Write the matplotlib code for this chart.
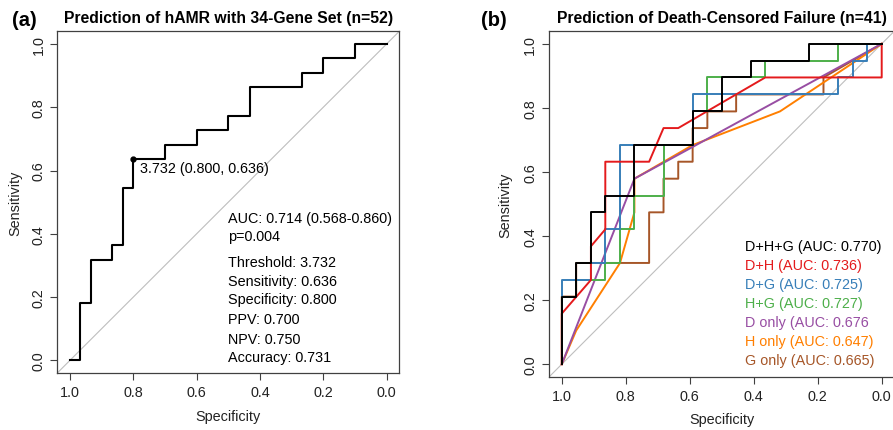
import matplotlib
matplotlib.use("Agg")
import matplotlib.pyplot as plt

plt.rcParams['font.family'] = ['Liberation Sans', 'DejaVu Sans']

###########################################################################
# Data
###########################################################################
# (a) hAMR, 34-gene set
a_spec = [1.0, 0.967, 0.967, 0.933, 0.933, 0.867, 0.867, 0.833, 0.833, 0.8, 0.8,
          0.7, 0.7, 0.6, 0.6, 0.5, 0.5, 0.433, 0.433, 0.267, 0.267, 0.2, 0.2,
          0.1, 0.1, 0.0]
a_sens = [0.0, 0.0, 0.182, 0.182, 0.318, 0.318, 0.364, 0.364, 0.545, 0.545, 0.636,
          0.636, 0.682, 0.682, 0.727, 0.727, 0.773, 0.773, 0.864, 0.864, 0.909,
          0.909, 0.955, 0.955, 1.0, 1.0]
a_best = (0.800, 0.636)
a_best_label = "3.732 (0.800, 0.636)"
a_stats = ["AUC: 0.714 (0.568-0.860)", "p=0.004", "Threshold: 3.732",
           "Sensitivity: 0.636", "Specificity: 0.800", "PPV: 0.700",
           "NPV: 0.750", "Accuracy: 0.731"]

# (b) death-censored failure
dhg_spec = [1, 1, 0.955, 0.955, 0.909, 0.909, 0.864, 0.864, 0.773, 0.773, 0.591,
            0.591, 0.5, 0.5, 0.409, 0.409, 0.227, 0.227, 0]
dhg_sens = [0, 0.211, 0.211, 0.316, 0.316, 0.474, 0.474, 0.526, 0.526, 0.684, 0.684,
            0.789, 0.789, 0.895, 0.895, 0.947, 0.947, 1, 1]
dh_spec = [1, 1, 0.909, 0.909, 0.864, 0.864, 0.727, 0.682, 0.636, 0.364, 0, 0]
dh_sens = [0, 0.158, 0.263, 0.368, 0.421, 0.632, 0.632, 0.737, 0.737, 0.895, 0.895, 1]
dg_spec = [1, 1, 0.909, 0.909, 0.864, 0.864, 0.818, 0.818, 0.591, 0.591, 0.136,
           0.136, 0.091, 0.091, 0.045, 0.045, 0]
dg_sens = [0, 0.263, 0.263, 0.316, 0.316, 0.421, 0.421, 0.684, 0.684, 0.842, 0.842,
           0.895, 0.895, 0.947, 0.947, 1, 1]
hg_spec = [1, 1, 0.955, 0.955, 0.864, 0.864, 0.818, 0.818, 0.773, 0.773, 0.682,
           0.682, 0.591, 0.591, 0.545, 0.545, 0.364, 0.364, 0.136, 0.136, 0]
hg_sens = [0, 0.211, 0.211, 0.263, 0.263, 0.316, 0.316, 0.421, 0.421, 0.526, 0.526,
           0.684, 0.684, 0.789, 0.789, 0.895, 0.895, 0.947, 0.947, 1, 1]
d_spec = [1, 0.773, 0]
d_sens = [0, 0.579, 1]
h_spec = [1, 0.955, 0.818, 0.773, 0.773, 0.591, 0.318, 0]
h_sens = [0, 0.105, 0.316, 0.474, 0.579, 0.684, 0.789, 1]
g_spec = [1, 1, 0.955, 0.955, 0.727, 0.727, 0.682, 0.682, 0.636, 0.636, 0.591,
          0.591, 0.545, 0.545, 0.455, 0.455, 0.182, 0.182, 0]
g_sens = [0, 0.211, 0.211, 0.316, 0.316, 0.474, 0.474, 0.579, 0.579, 0.632, 0.632,
          0.737, 0.737, 0.789, 0.789, 0.842, 0.842, 0.895, 1]

b_labels = ["D+H+G (AUC: 0.770)", "D+H (AUC: 0.736)", "D+G (AUC: 0.725)",
            "H+G (AUC: 0.727)", "D only (AUC: 0.676", "H only (AUC: 0.647)",
            "G only (AUC: 0.665)"]
b_colors = ['#000000', '#E41A1C', '#377EB8', '#4DAF4A', '#984EA3', '#FF7F00', '#A65628']
b_curves = [(dhg_spec, dhg_sens), (dh_spec, dh_sens), (dg_spec, dg_sens),
            (hg_spec, hg_sens), (d_spec, d_sens), (h_spec, h_sens), (g_spec, g_sens)]

ticks = [1.0, 0.8, 0.6, 0.4, 0.2, 0.0]
tick_labels = ["1.0", "0.8", "0.6", "0.4", "0.2", "0.0"]

###########################################################################
# Figure
###########################################################################
W, H = 893, 431
fig = plt.figure(figsize=(W / 100, H / 100), dpi=100)
ax1 = fig.add_axes([57.3 / W, 57 / H, 342 / W, 341.7 / H])
ax2 = fig.add_axes([549 / W, 53 / H, 345.5 / W, 346 / H])

FS = 10.4
frame_col = '#404040'


def style_axis(ax, xlab_y, ylab_x):
    ax.set_xlim(1.04, -0.04)
    ax.set_ylim(-0.04, 1.04)
    ax.axline((1, 0), (0, 1), color='#BEBEBE', lw=0.8, zorder=1)
    for s in ax.spines.values():
        s.set_color(frame_col)
        s.set_linewidth(0.9)
    ax.set_xticks(ticks)
    ax.set_xticklabels(tick_labels)
    ax.set_yticks(ticks)
    ax.set_yticklabels(tick_labels, rotation=90, va='center')
    ax.tick_params(direction='out', length=5, width=0.8, color=frame_col,
                   labelsize=FS, labelcolor='#222222', pad=3.5)
    ax.set_xlabel("Specificity", fontsize=FS, color='#222222')
    ax.set_ylabel("Sensitivity", fontsize=FS, color='#222222')
    ax.xaxis.label.set_va('center')
    ax.yaxis.label.set_va('center')
    ax.xaxis.set_label_coords(0.5, xlab_y)
    ax.yaxis.set_label_coords(ylab_x, 0.5)


# (a)
style_axis(ax1, -0.126, -0.124)
ax1.plot(a_spec, a_sens, color='black', lw=1.5, zorder=3)
ax1.plot(*a_best, 'o', color='black', ms=3.5, zorder=4)
ax1.text(0.778, 0.609, a_best_label, fontsize=FS, ha='left', va='center')
a_ypos = [0.449, 0.393, 0.310, 0.252, 0.193, 0.130, 0.069, 0.010]
for txt, y in zip(a_stats, a_ypos):
    ax1.text(0.5, y, txt, fontsize=FS, ha='left', va='center')
ax1.text(0.5, 1.040, "Prediction of hAMR with 34-Gene Set (n=52)", transform=ax1.transAxes,
         ha='center', va='center', fontsize=11.3, fontweight='bold')
fig.text(24 / W, 1 - 21 / H, "(a)", ha='center', va='center', fontsize=14.5, fontweight='bold')

# (b)
style_axis(ax2, -0.121, -0.127)
# drawn last-to-first so the combined model sits on top
for (sp, se), col in reversed(list(zip(b_curves, b_colors))):
    ax2.plot(sp, se, color=col, lw=1.4, zorder=3)
b_ypos = [0.370, 0.310, 0.250, 0.191, 0.131, 0.072, 0.012]
for txt, col, y in zip(b_labels, b_colors, b_ypos):
    ax2.text(0.427, y, txt, color=col, fontsize=FS, ha='left', va='center')
ax2.text(0.5, 1.039, "Prediction of Death-Censored Failure (n=41)", transform=ax2.transAxes,
         ha='center', va='center', fontsize=11.3, fontweight='bold')
fig.text(494 / W, 1 - 21 / H, "(b)", ha='center', va='center', fontsize=14.5, fontweight='bold')

fig.savefig("out.png", dpi=100)
